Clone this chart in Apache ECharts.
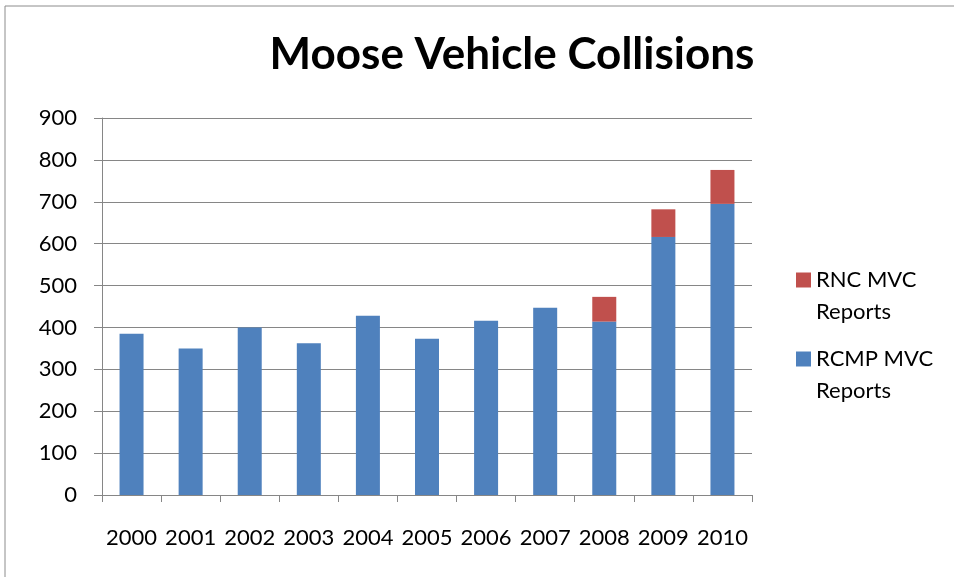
<!DOCTYPE html>
<html>
<head>
<meta charset="utf-8">
<script src="https://cdn.jsdelivr.net/npm/echarts@6/dist/echarts.min.js"></script>
<style>html,body{margin:0;padding:0;background:#fff;}#c{width:954px;height:577px;}</style>
</head>
<body>
<div id="c"></div>
<script>
const years = ['2000','2001','2002','2003','2004','2005','2006','2007','2008','2009','2010'];
const rcmp = [385, 350, 400, 362, 428, 373, 416, 447, 414, 616, 695];
const rnc = [0, 0, 0, 0, 0, 0, 0, 0, 59, 66, 81];
const yTicks = {min: 0, max: 900, interval: 100};
const titleText = 'Moose Vehicle Collisions';
const rncName = 'RNC MVC Reports';
const rcmpName = 'RCMP MVC Reports';

const FONT = 'Lato';
const chart = echarts.init(document.getElementById('c'), null, {renderer: 'canvas'});
const legendText = {
  fontFamily: FONT, fontSize: 22, color: '#000', lineHeight: 32
};
const fmt = n => ' \n' + n.replace(' Reports', '\nReports');
chart.setOption({
  animation: false,
  backgroundColor: '#fff',
  title: {
    text: titleText, left: 507, top: 28, textAlign: 'center',
    textStyle: {fontFamily: FONT, fontWeight: 'bold', fontSize: 44, color: '#000'}
  },
  graphic: [{
    type: 'rect', shape: {x: 5, y: 6, width: 960, height: 600},
    style: {fill: 'none', stroke: '#8c8c8c', lineWidth: 1}, silent: true
  }],
  legend: [{
    data: [rncName], orient: 'vertical', left: 791, top: 227,
    icon: 'rect', itemWidth: 15, itemHeight: 15, formatter: fmt, textStyle: legendText
  }, {
    data: [rcmpName], orient: 'vertical', left: 791, top: 306,
    icon: 'rect', itemWidth: 15, itemHeight: 15, formatter: fmt, textStyle: legendText
  }],
  grid: {left: 102, right: 202, top: 118, bottom: 82, containLabel: false},
  xAxis: {
    type: 'category', data: years,
    axisLine: {lineStyle: {color: '#868686', width: 1}},
    axisTick: {show: true, length: 7, lineStyle: {color: '#868686'}},
    axisLabel: {fontFamily: FONT, fontSize: 22, color: '#000', margin: 32, interval: 0}
  },
  yAxis: {
    type: 'value', min: yTicks.min, max: yTicks.max, interval: yTicks.interval,
    axisLine: {show: true, lineStyle: {color: '#868686', width: 1}},
    axisTick: {show: true, length: 8, lineStyle: {color: '#868686'}},
    splitLine: {lineStyle: {color: '#868686', width: 1}},
    axisLabel: {fontFamily: FONT, fontSize: 22, color: '#000', margin: 25}
  },
  series: [{
    name: rcmpName, type: 'bar', stack: 'a', data: rcmp,
    barWidth: 24, itemStyle: {color: '#4F81BD'}
  }, {
    name: rncName, type: 'bar', stack: 'a', data: rnc,
    barWidth: 24, itemStyle: {color: '#C0504D'}
  }]
});
</script>
</body>
</html>
